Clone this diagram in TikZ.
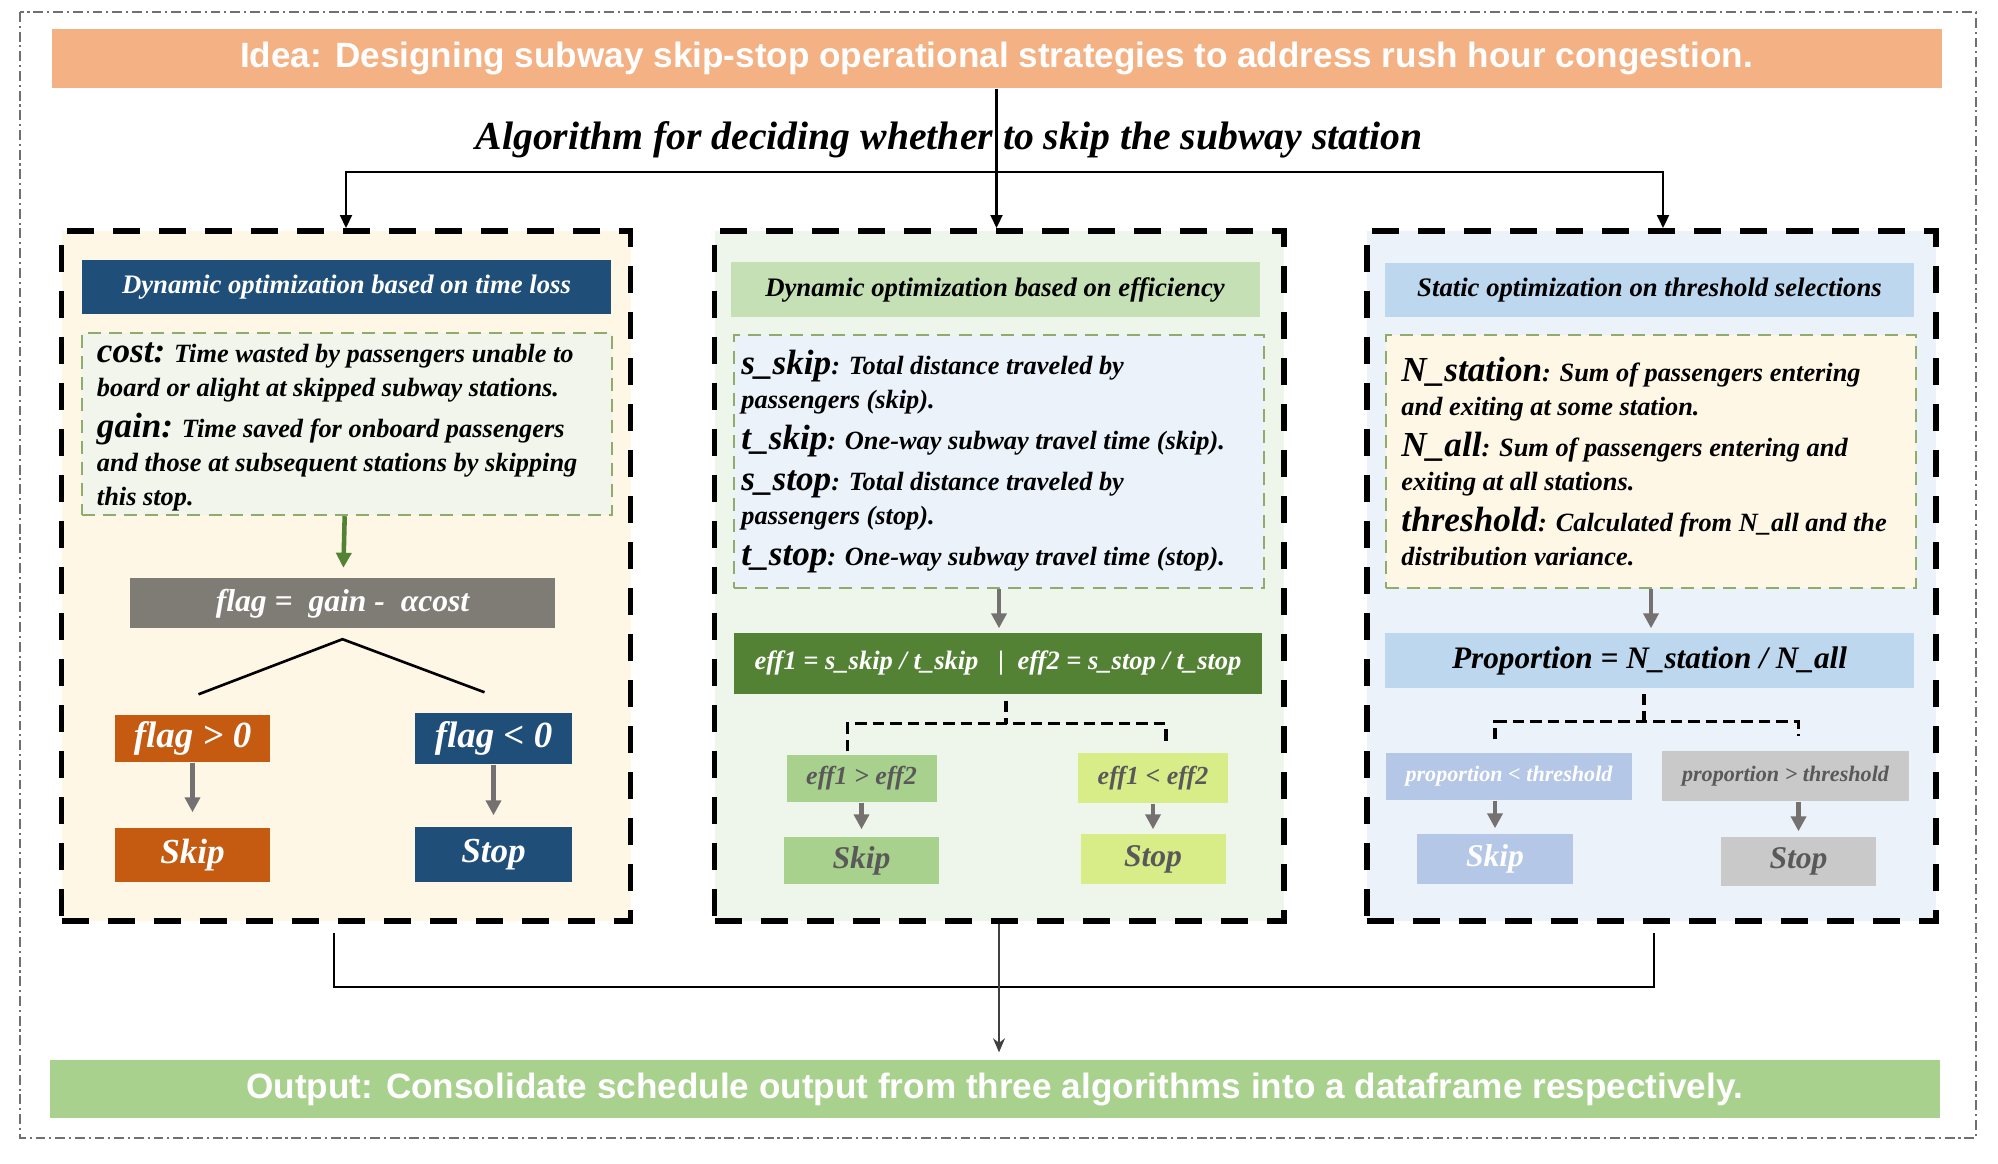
\documentclass[tikz,border=0pt]{standalone}
\usepackage{fontspec}
\setmainfont{Liberation Serif}
\newfontfamily\sansbold{Liberation Sans}
\usetikzlibrary{arrows.meta,calc}

\definecolor{ideaorange}{RGB}{244,177,131}
\definecolor{outgreen}{RGB}{169,209,142}
\definecolor{framegray}{RGB}{112,112,112}
\definecolor{creambg}{RGB}{255,247,230}
\definecolor{mintbg}{RGB}{238,245,234}
\definecolor{skybg}{RGB}{235,242,250}
\definecolor{navyblue}{RGB}{31,78,121}
\definecolor{headgreen}{RGB}{197,224,180}
\definecolor{headblue}{RGB}{189,215,238}
\definecolor{notegreen}{RGB}{241,245,235}
\definecolor{dashgreen}{RGB}{143,171,110}
\definecolor{flaggray}{RGB}{127,124,118}
\definecolor{rustorange}{RGB}{197,90,17}
\definecolor{effgreen}{RGB}{84,130,53}
\definecolor{limegreen}{RGB}{216,236,136}
\definecolor{propblue}{RGB}{180,199,231}
\definecolor{propgray}{RGB}{201,201,201}
\definecolor{arrowgray}{RGB}{118,113,113}
\definecolor{textgray}{RGB}{89,89,89}
\definecolor{darkline}{RGB}{64,64,64}

\newcommand{\kw}[1]{{\fontsize{10}{11}\selectfont #1}}

\begin{document}
\begin{tikzpicture}[
    barbox/.style={minimum width=18.9cm, minimum height=0.59cm, inner sep=0pt,
        text=white, font=\sansbold\bfseries\fontsize{10}{12}\selectfont},
    algbox/.style={draw=black, line width=1.7pt, dash pattern=on 7.7pt off 5.4pt,
        minimum width=5.69cm, minimum height=6.9cm},
    headbox/.style={minimum width=5.29cm, minimum height=0.54cm, inner sep=0pt,
        font=\bfseries\itshape\fontsize{7.6}{9}\selectfont},
    notebox/.style={draw=dashgreen, line width=0.7pt, dash pattern=on 3.7pt off 2.3pt,
        minimum width=5.3cm},
    notetext/.style={anchor=west, inner sep=0pt, align=left,
        font=\bfseries\itshape\fontsize{7.5}{9.7}\selectfont},
    smallbox/.style={minimum width=1.55cm, minimum height=0.5cm, inner sep=0pt,
        font=\bfseries\itshape\fontsize{9}{10}\selectfont},
    garr/.style={-{Triangle[width=0.15cm,length=0.15cm]}, line width=1.3pt, arrowgray},
    tarr/.style={-{Triangle[width=0.12cm,length=0.13cm]}, line width=0.6pt},
    splitline/.style={line width=0.9pt, dash pattern=on 3.3pt off 1.7pt},
]
\useasboundingbox (0,0) rectangle (19.98,-11.64);
\draw[framegray, line width=0.6pt, dash pattern=on 2.8pt off 1.1pt on 0.6pt off 1.1pt]
    (0.20,-0.12) rectangle (19.76,-11.38);

% idea, title and output
\node[barbox, fill=ideaorange] (idea) at (9.965,-0.585)
    {Idea: Designing subway skip-stop operational strategies to address rush hour congestion.};
\node[font=\bfseries\itshape\fontsize{11.3}{13}\selectfont] (algo) at (9.49,-1.40)
    {Algorithm for deciding whether to skip the subway station};
\node[barbox, fill=outgreen, minimum height=0.58cm] (out) at (9.945,-10.89)
    {Output: Consolidate schedule output from three algorithms into a dataframe respectively.};

% the three algorithms
\node[algbox, fill=creambg] (lbox) at (3.46,-5.76) {};
\node[algbox, fill=mintbg] (mbox) at (9.99,-5.76) {};
\node[algbox, fill=skybg] (rbox) at (16.51,-5.76) {};

% time loss
\node[headbox, fill=navyblue, text=white] (lhead) at (3.465,-2.87) {Dynamic optimization based on time loss};
\node[notebox, fill=notegreen, minimum height=1.82cm] (lnote) at (3.47,-4.24) {};
\node[notetext] (lnotetext) at ([xshift=0.155cm,yshift=-0.03cm]lnote.west)
    {\kw{cost:} Time wasted by passengers unable to\\
     board or alight at skipped subway stations.\\[2pt]
     \kw{gain:} Time saved for onboard passengers\\
     and those at subsequent stations by skipping\\
     this stop.};
\node[smallbox, minimum width=4.25cm, fill=flaggray, text=white] (flag) at (3.425,-6.035)
    {flag =\ \ gain -\ \ αcost};
\node[smallbox, fill=rustorange, text=white, minimum height=0.47cm, font=\bfseries\itshape\fontsize{10.5}{11}\selectfont] (fpos) at (1.925,-7.385) {flag > 0};
\node[smallbox, fill=navyblue, text=white, minimum width=1.57cm, minimum height=0.51cm, font=\bfseries\itshape\fontsize{10.5}{11}\selectfont] (fneg) at (4.935,-7.385) {flag < 0};
\node[smallbox, fill=rustorange, text=white, minimum height=0.54cm, font=\bfseries\itshape\fontsize{10}{11}\selectfont] (lskip) at (1.925,-8.55) {Skip};
\node[smallbox, fill=navyblue, text=white, minimum width=1.57cm, minimum height=0.55cm, font=\bfseries\itshape\fontsize{10}{11}\selectfont] (lstop) at (4.935,-8.545) {Stop};
\draw[-{Triangle[width=0.15cm,length=0.15cm]}, line width=1.3pt, effgreen, shorten >=0.1cm] (lnote) -- (flag);
\draw[line width=0.75pt] ([xshift=0.06cm,yshift=0.2cm]fpos.north) -- ([yshift=-0.1cm]flag.south)
    -- ([xshift=-0.09cm,yshift=0.2cm]fneg.north);
\draw[garr, shorten >=0.15cm] (fpos) -- (lskip);
\draw[garr, shorten >=0.11cm] (fneg) -- (lstop);

% efficiency
\node[headbox, fill=headgreen, minimum height=0.55cm] (mhead) at (9.95,-2.895) {Dynamic optimization based on efficiency};
\node[notebox, fill=skybg, minimum height=2.53cm] (mnote) at (9.99,-4.615) {};
\node[notetext] (mnotetext) at ([xshift=0.08cm]mnote.west)
    {\kw{s\_skip}: Total distance traveled by\\
     passengers (skip).\\[2pt]
     \kw{t\_skip}: One-way subway travel time (skip).\\[2pt]
     \kw{s\_stop}: Total distance traveled by\\
     passengers (stop).\\[2pt]
     \kw{t\_stop}: One-way subway travel time (stop).};
\node[smallbox, minimum width=5.28cm, minimum height=0.61cm, fill=effgreen, text=white,
    font=\bfseries\itshape\fontsize{7.55}{9}\selectfont] (eff) at (9.98,-6.635)
    {eff1 = s\_skip / t\_skip \ \ |\ \ eff2 = s\_stop / t\_stop};
\node[smallbox, minimum width=1.5cm, minimum height=0.47cm, fill=outgreen, text=textgray,
    font=\bfseries\itshape\fontsize{7.4}{9}\selectfont] (effgt) at (8.615,-7.785) {eff1 > eff2};
\node[smallbox, minimum width=1.5cm, fill=limegreen, text=textgray,
    font=\bfseries\itshape\fontsize{7.4}{9}\selectfont] (efflt) at (11.53,-7.78) {eff1 < eff2};
\node[smallbox, minimum height=0.47cm, fill=outgreen, text=textgray] (mskip) at (8.615,-8.605) {Skip};
\node[smallbox, minimum width=1.45cm, fill=limegreen, text=textgray] (mstop) at (11.53,-8.59) {Stop};
\draw[garr, shorten >=0.04cm] (mnote) -- (mnote.south |- eff.north);
\draw[splitline] ([xshift=0.08cm,yshift=-0.06cm]eff.south) -- ++(0,-0.23) coordinate (mfork);
\draw[splitline] ([xshift=-0.14cm,yshift=0.03cm]effgt.north) |- (mfork)
    -| ([xshift=0.13cm,yshift=0.11cm]efflt.north);
\draw[garr, shorten >=0.07cm] (effgt) -- (mskip);
\draw[garr, shorten >=0.04cm] (efflt) -- (mstop);

% threshold
\node[headbox, fill=headblue] (rhead) at (16.495,-2.90) {Static optimization on threshold selections};
\node[notebox, fill=creambg, minimum height=2.53cm] (rnote) at (16.51,-4.615) {};
\node[notetext] (rnotetext) at ([xshift=0.16cm]rnote.west)
    {\kw{N\_station}: Sum of passengers entering\\
     and exiting at some station.\\[2pt]
     \kw{N\_all}: Sum of passengers entering and\\
     exiting at all stations.\\[2pt]
     \kw{threshold}: Calculated from N\_all and the\\
     distribution variance.};
\node[smallbox, minimum width=5.29cm, minimum height=0.55cm, fill=headblue,
    font=\bfseries\itshape\fontsize{8.9}{11}\selectfont] (prop) at (16.495,-6.605)
    {Proportion = N\_station / N\_all};
\node[smallbox, minimum width=2.46cm, minimum height=0.47cm, fill=propblue, text=white,
    font=\bfseries\itshape\fontsize{6.3}{8}\selectfont] (plt) at (15.09,-7.765) {proportion < threshold};
\node[smallbox, minimum width=2.47cm, fill=propgray, text=textgray,
    font=\bfseries\itshape\fontsize{6.3}{8}\selectfont] (pgt) at (17.855,-7.76) {proportion > threshold};
\node[smallbox, minimum width=1.56cm, fill=propblue, text=white] (pskip) at (14.95,-8.59) {Skip};
\node[smallbox, fill=propgray, text=textgray, minimum height=0.49cm] (pstop) at (17.985,-8.615) {Stop};
\draw[garr, shorten >=0.04cm] (rnote) -- (rnote.south |- prop.north);
\draw[splitline] ([xshift=-0.055cm,yshift=-0.05cm]prop.south) -- ++(0,-0.28) coordinate (rfork);
\draw[splitline] ($(plt.north -| pskip.north)+(0,0.13)$) |- (rfork)
    -| ($(pgt.north -| pstop.north)+(0,0.14)$);
\draw[garr, shorten >=0.05cm] (plt.south -| pskip.north) -- (pskip.north);
\draw[garr, shorten >=0.05cm] (pgt.south -| pstop.north) -- (pstop.north);

% connectors
\coordinate (hub) at (9.965,-1.72);
\draw[tarr] (idea.south) -- (idea.south |- mbox.north);
\draw[tarr] (hub) -| (lbox.north);
\draw[tarr] (hub) -| ([xshift=0.12cm]rbox.north);
\coordinate (bus) at (9.90,-9.87);
\draw[line width=0.8pt] ([xshift=-0.12cm,yshift=-0.09cm]lbox.south) |- (bus)
    -| ([xshift=0.03cm,yshift=-0.09cm]rbox.south);
\draw[-{Stealth[width=0.12cm,length=0.14cm]}, line width=0.45pt, darkline, shorten >=0.07cm]
    (mbox.south) -- (mbox.south |- out.north);
\end{tikzpicture}
\end{document}
